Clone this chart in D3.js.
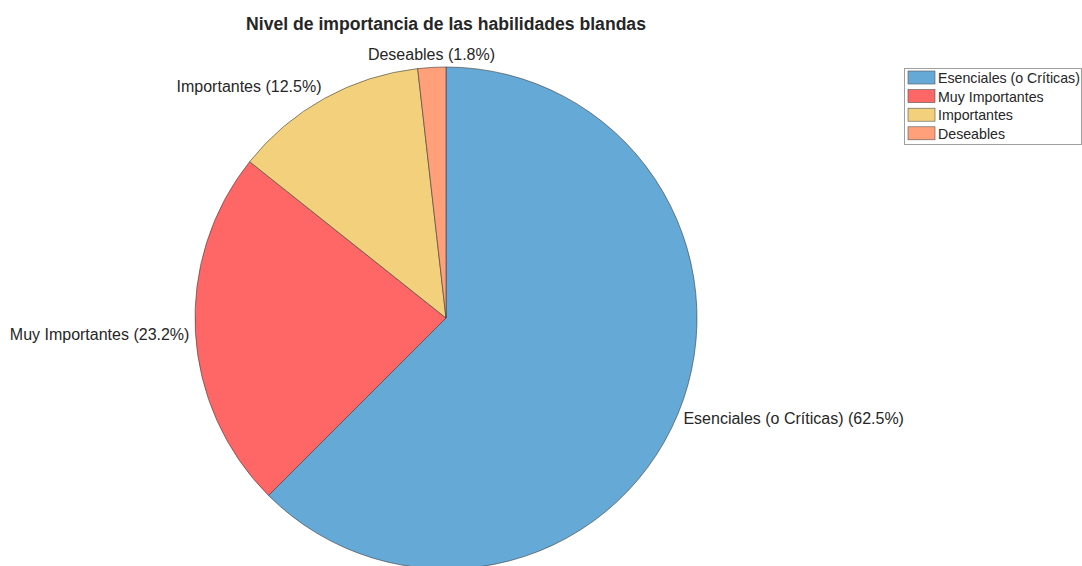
<!DOCTYPE html>
<html>
<head>
<meta charset="utf-8">
<script src="https://cdn.jsdelivr.net/npm/d3@7"></script>
<style>
  html, body { margin: 0; padding: 0; background: #fff; }
  svg { display: block; font-family: "Liberation Sans", Arial, Helvetica, sans-serif; }
</style>
</head>
<body>
<svg id="chart" width="1082" height="566"></svg>
<script>
// Importance levels of soft skills (percent of responses)
const categories = ["Esenciales (o Críticas)", "Muy Importantes", "Importantes", "Deseables"];
const values = [62.5, 23.2, 12.5, 1.8];
const colors = ["#65a9d7", "#ff6666", "#f3d17c", "#ffa07a"];
const title = "Nivel de importancia de las habilidades blandas";

const svg = d3.select("#chart");
const cx = 446, cy = 318, radius = 251;

svg.append("text")
  .attr("x", cx).attr("y", 30)
  .attr("text-anchor", "middle")
  .attr("font-size", 17.6).attr("font-weight", "bold")
  .attr("fill", "#262626")
  .text(title);

const data = categories.map((c, i) => ({ label: c, value: values[i], color: colors[i] }));

const pie = d3.pie().sort(null).value(d => d.value);
const arcs = pie(data);
const arc = d3.arc().innerRadius(0).outerRadius(radius);

const g = svg.append("g").attr("transform", `translate(${cx},${cy})`);

g.selectAll("path.slice")
  .data(arcs)
  .join("path")
  .attr("class", "slice")
  .attr("d", arc)
  .attr("fill", d => d.data.color)
  .attr("stroke", "#3a3a3a")
  .attr("stroke-width", 0.6);

// Labels placed just outside the rim, aligned by quadrant
const labelR = radius + 6;
g.selectAll("text.lbl")
  .data(arcs)
  .join("text")
  .attr("class", "lbl")
  .each(function(d) {
    const a = (d.startAngle + d.endAngle) / 2;
    const s = Math.sin(a), c = Math.cos(a);
    const x = labelR * s, y = -labelR * c + 2;
    const anchor = Math.abs(s) < 0.15 ? "middle" : (s > 0 ? "start" : "end");
    let base = "central";
    if (c > 0.5) base = "text-after-edge";
    else if (c < -0.5) base = "hanging";
    d3.select(this)
      .attr("x", x).attr("y", y)
      .attr("text-anchor", anchor)
      .attr("dominant-baseline", base);
  })
  .attr("font-size", 16)
  .attr("fill", "#262626")
  .text(d => `${d.data.label} (${d.data.value.toFixed(1)}%)`);

// Legend
const lx = 904, ly = 68, lw = 177, lh = 76, rowH = 18.6;
const legend = svg.append("g");
legend.append("rect")
  .attr("x", lx + 0.5).attr("y", ly + 0.5)
  .attr("width", lw).attr("height", lh)
  .attr("fill", "#fff").attr("stroke", "#a0a0a0").attr("stroke-width", 1);

const rows = legend.selectAll("g.row")
  .data(data)
  .join("g")
  .attr("class", "row")
  .attr("transform", (d, i) => `translate(${lx + 4},${ly + 3 + i * rowH})`);

rows.append("rect")
  .attr("x", 0).attr("y", 0)
  .attr("width", 27).attr("height", 13)
  .attr("fill", d => d.color)
  .attr("stroke", "#555").attr("stroke-width", 0.6);

rows.append("text")
  .attr("x", 30).attr("y", 7)
  .attr("dominant-baseline", "central")
  .attr("font-size", 14.2)
  .attr("fill", "#262626")
  .text(d => d.label);
</script>
</body>
</html>
